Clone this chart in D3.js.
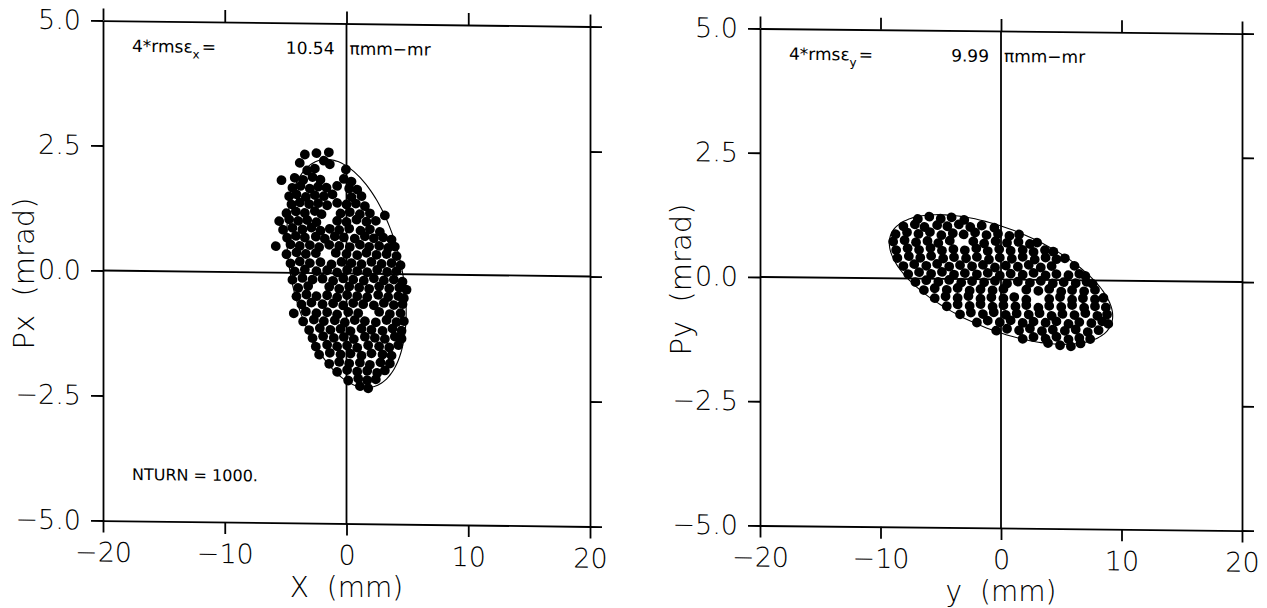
<!DOCTYPE html>
<html><head><meta charset="utf-8">
<script src="https://cdn.jsdelivr.net/npm/d3@7"></script>
<style>
html,body{margin:0;padding:0;background:#fff;}
svg{display:block;}
text{font-family:"DejaVu Sans",sans-serif;fill:#000;}
</style></head><body>
<svg id="chart" width="1267" height="608"></svg>
<script>
// ---------- data ----------
const xTicks = [-20, -10, 0, 10, 20];
const yTicks = [-5, -2.5, 0, 2.5, 5];
const xTickLabels = ["\u221220", "\u221210", "0", "10", "20"];
const yTickLabels = ["\u22125.0", "\u22122.5", "0.0", "2.5", "5.0"];
const planeNames = ["x", "y"];
const xTitles = ["X  (mm)", "y  (mm)"];
const yTitles = ["Px  (mrad)", "Py  (mrad)"];
const emittance = [10.54, 9.99];       // 4*rms emittance, pi mm-mrad
const twissAlpha = [0.35, 0.66];
const twissBeta = [2.28, 8.6];
const nturnLabel = "NTURN = 1000.";

// particles, horizontal phase space (X mm, Px mrad)
const pointsX = [
[-3.42,2.37],[-2.47,2.40],[-1.45,2.42],
[-3.84,2.20],[-1.86,2.25],[-1.37,2.18],
[-3.23,2.05],[-2.60,2.09],[-0.05,2.08],
[-5.34,1.85],[-4.25,1.90],[-3.56,1.86],[-2.79,1.92],[-2.14,1.87],[-0.22,1.89],[0.41,1.84],
[-4.44,1.70],[-3.78,1.74],[-3.01,1.69],[-2.33,1.73],[-1.64,1.71],[-0.77,1.75],[0.22,1.70],[0.88,1.68],
[-4.71,1.53],[-4.11,1.57],[-3.34,1.52],[-2.60,1.56],[-1.86,1.54],[-1.15,1.58],[0.41,1.53],[1.23,1.55],
[-4.52,1.37],[-3.84,1.41],[-3.07,1.38],[-2.33,1.40],[-1.59,1.36],[-0.77,1.41],[0,1.38],[0.77,1.40],[1.51,1.35],
[-4.93,1.19],[-4.16,1.23],[-3.42,1.20],[-2.60,1.24],[-2.05,1.18],[-0.49,1.20],[0.27,1.23],[1.10,1.19],[1.92,1.21],[3.15,1.17],
[-5.53,1.03],[-4.71,1.07],[-3.97,1.04],[-3.23,1.06],[-2.47,1.02],[-0.77,1.05],[0,1.03],[0.82,1.08],[1.64,1.04],[2.41,1.06],
[-5.21,0.86],[-4.44,0.90],[-3.62,0.87],[-2.88,0.91],[-2.14,0.85],[-1.37,0.89],[-0.60,0.87],[0.22,0.90],[1.15,0.86],[1.92,0.89],[2.74,0.84],
[-4.88,0.70],[-4.16,0.74],[-3.42,0.71],[-2.52,0.73],[-1.78,0.69],[-0.96,0.74],[-0.22,0.72],[0.68,0.70],[1.51,0.75],[2.25,0.71],[3.01,0.73],[3.70,0.69],
[-5.81,0.53],[-4.60,0.57],[-3.84,0.54],[-3.01,0.56],[-2.25,0.52],[-1.42,0.57],[-0.60,0.55],[0.27,0.53],[1.10,0.58],[1.86,0.54],[2.68,0.56],[3.42,0.52],[3.97,0.55],
[-4.93,0.37],[-4.11,0.41],[-3.34,0.38],[-2.52,0.40],[-0.88,0.41],[0,0.39],[0.88,0.37],[1.64,0.42],[2.47,0.38],[3.29,0.40],[4.11,0.36],
[-4.60,0.19],[-3.84,0.23],[-3.01,0.20],[-2.14,0.22],[-1.23,0.18],[-0.41,0.23],[0.41,0.21],[1.23,0.19],[2.05,0.24],[2.88,0.20],[3.70,0.22],[4.44,0.18],
[-4.25,0.03],[-3.42,0.07],[-2.47,0.04],[-1.59,0.06],[-0.77,0.02],[0.05,0.07],[0.88,0.05],[1.70,0.03],[2.52,0.08],[3.34,0.04],[4.11,0.06],
[-4.44,-0.14],[-3.62,-0.10],[-2.79,-0.13],[-1.97,-0.11],[-1.10,-0.15],[-0.27,-0.10],[0.55,-0.12],[1.42,-0.14],[2.25,-0.09],[3.07,-0.13],[3.89,-0.11],[4.60,-0.15],
[-3.97,-0.30],[-3.15,-0.26],[-1.42,-0.27],[-0.60,-0.31],[0.22,-0.26],[1.04,-0.28],[1.86,-0.30],[2.68,-0.25],[3.51,-0.29],[4.33,-0.27],[4.93,-0.31],
[-4.11,-0.47],[-3.29,-0.43],[-2.47,-0.46],[-1.59,-0.44],[-0.77,-0.48],[0.05,-0.43],[0.88,-0.45],[1.70,-0.47],[2.60,-0.42],[3.42,-0.46],[4.25,-0.44],[4.71,-0.48],
[-3.70,-0.63],[-2.88,-0.59],[-1.97,-0.62],[-1.10,-0.60],[-0.27,-0.64],[0.55,-0.59],[1.37,-0.61],[2.25,-0.63],[3.07,-0.58],[3.89,-0.62],[4.60,-0.60],
[-4.33,-0.81],[-3.34,-0.77],[-2.47,-0.80],[-1.59,-0.78],[-0.77,-0.82],[0.14,-0.77],[0.96,-0.79],[2.68,-0.76],[3.56,-0.80],[4.44,-0.78],
[-3.56,-0.97],[-2.68,-0.93],[-1.86,-0.96],[-0.96,-0.94],[-0.14,-0.98],[0.68,-0.93],[1.51,-0.95],[2.41,-0.97],[3.29,-0.92],[4.11,-0.96],[4.71,-0.94],
[-3.07,-1.14],[-2.19,-1.10],[-1.32,-1.13],[-0.49,-1.11],[0.33,-1.15],[1.23,-1.10],[2.05,-1.12],[2.96,-1.14],[3.78,-1.09],[4.52,-1.13],
[-2.79,-1.30],[-1.92,-1.26],[-1.04,-1.29],[-0.22,-1.27],[0.60,-1.31],[1.51,-1.26],[2.33,-1.28],[3.15,-1.30],[3.97,-1.25],[4.52,-1.29],
[-2.52,-1.47],[-1.59,-1.43],[-0.77,-1.46],[0.05,-1.44],[0.88,-1.48],[1.78,-1.43],[2.68,-1.45],[3.51,-1.47],[4.25,-1.42],
[-2.25,-1.63],[-1.37,-1.59],[-0.49,-1.62],[0.33,-1.60],[1.23,-1.64],[2.05,-1.59],[2.96,-1.61],[3.70,-1.63],
[-1.42,-1.81],[-0.60,-1.77],[0.22,-1.80],[1.10,-1.78],[1.92,-1.82],[2.79,-1.77],[3.56,-1.79],
[-0.77,-1.97],[0.05,-1.93],[0.88,-1.96],[1.70,-1.94],[2.52,-1.98],[3.15,-1.93],
[0.14,-2.14],[0.96,-2.10],[1.70,-2.13],[2.41,-2.11],
[1.10,-2.25],[1.78,-2.29]
];

// particles, vertical phase space (y mm, Py mrad)
const pointsY = [
[-6.9,1.20],[-5.95,1.25],[-5.0,1.21],[-4.1,1.24],[-3.05,1.19],
[-8.1,1.05],[-7.15,1.09],[-6.35,1.04],[-5.3,1.08],[-4.45,1.06],[-3.5,1.10],[-2.55,1.05],[-1.6,1.08],[-0.55,1.04],
[-8.75,0.89],[-7.8,0.93],[-6.85,0.90],[-5.9,0.94],[-4.95,0.88],[-4.0,0.92],[-3.1,0.90],[-2.15,0.94],[-1.2,0.89],[-0.25,0.92],[0.7,0.88],[1.5,0.91],
[-8.95,0.74],[-8.0,0.77],[-7.05,0.73],[-6.1,0.76],[-5.2,0.72],[-4.25,0.77],[-2.3,0.76],[-1.4,0.72],[-0.45,0.77],[0.5,0.74],[1.45,0.76],[2.4,0.72],[3.0,0.75],
[-8.7,0.57],[-7.75,0.61],[-6.8,0.58],[-5.85,0.62],[-4.9,0.57],[-3.95,0.60],[-3.0,0.58],[-2.05,0.62],[-1.1,0.57],[-0.15,0.61],[0.8,0.58],[1.8,0.60],[2.7,0.56],[3.65,0.60],[4.35,0.57],
[-8.6,0.41],[-7.65,0.45],[-6.7,0.42],[-5.8,0.46],[-4.8,0.41],[-3.9,0.44],[-2.9,0.42],[-2.0,0.45],[-1.0,0.40],[-0.1,0.44],[0.9,0.42],[1.8,0.46],[2.8,0.41],[3.7,0.45],[4.6,0.42],[5.3,0.44],
[-8.1,0.25],[-7.2,0.29],[-6.2,0.26],[-5.3,0.30],[-4.3,0.25],[-3.4,0.28],[-2.4,0.26],[-1.5,0.29],[-0.5,0.24],[0.4,0.28],[1.4,0.26],[2.3,0.30],[3.3,0.25],[4.2,0.28],[6.1,0.29],
[-7.7,0.09],[-6.8,0.13],[-5.8,0.10],[-4.9,0.14],[-3.9,0.09],[-3.0,0.12],[-2.0,0.10],[-1.1,0.13],[-0.1,0.08],[0.8,0.12],[1.8,0.10],[2.7,0.14],[3.7,0.09],[4.6,0.12],[5.6,0.10],[6.5,0.13],[7.0,0.09],
[-7.1,-0.07],[-6.2,-0.03],[-5.2,-0.06],[-4.3,-0.02],[-3.3,-0.07],[-2.4,-0.04],[-1.4,-0.06],[-0.5,-0.03],[0.5,-0.08],[1.4,-0.04],[2.4,-0.06],[3.3,-0.02],[4.3,-0.07],[5.2,-0.04],[6.2,-0.06],[7.1,-0.03],[7.6,-0.07],
[-6.4,-0.23],[-5.5,-0.19],[-4.5,-0.22],[-3.6,-0.18],[-2.6,-0.23],[-1.7,-0.20],[-0.7,-0.22],[0.2,-0.19],[2.1,-0.20],[3.1,-0.22],[4.0,-0.18],[5.0,-0.23],[5.9,-0.20],[6.9,-0.22],[7.8,-0.19],
[-5.5,-0.39],[-4.6,-0.35],[-3.6,-0.38],[-2.7,-0.34],[-1.7,-0.39],[-0.8,-0.36],[0.2,-0.38],[1.1,-0.35],[2.1,-0.40],[4.0,-0.38],[4.9,-0.34],[5.9,-0.39],[6.8,-0.36],[7.8,-0.38],[8.5,-0.35],
[-4.5,-0.55],[-3.6,-0.51],[-2.6,-0.54],[-1.7,-0.50],[-0.7,-0.55],[0.2,-0.52],[1.2,-0.54],[2.1,-0.51],[3.1,-0.56],[4.0,-0.52],[5.0,-0.54],[5.9,-0.50],[6.9,-0.55],[7.8,-0.52],[8.7,-0.54],
[-3.4,-0.71],[-2.5,-0.67],[-1.5,-0.70],[-0.6,-0.66],[0.4,-0.71],[1.3,-0.68],[2.3,-0.70],[3.2,-0.67],[4.2,-0.72],[5.1,-0.68],[6.1,-0.70],[7.0,-0.66],[8.0,-0.71],[8.8,-0.68],
[-2.0,-0.87],[-1.1,-0.83],[-0.1,-0.86],[0.8,-0.82],[1.8,-0.87],[2.7,-0.84],[3.7,-0.86],[4.6,-0.83],[5.6,-0.88],[6.5,-0.84],[7.5,-0.86],[8.4,-0.82],[8.9,-0.87],
[-0.4,-1.03],[0.5,-0.99],[1.5,-1.02],[2.4,-0.98],[3.4,-1.03],[4.3,-1.00],[5.3,-1.02],[6.2,-0.99],[7.2,-1.04],[8.1,-1.00],
[1.8,-1.19],[2.7,-1.15],[3.7,-1.18],[4.6,-1.14],[5.6,-1.19],[6.5,-1.16],[7.4,-1.18],
[3.9,-1.27],[4.9,-1.31],[5.8,-1.33],[6.6,-1.27]
];

// ---------- layout ----------
const panels = [
  {xr: [103, 590], yr: [523.5, 23.5], skew: 0.7, pts: pointsX, nturn: true},
  {xr: [760, 1242], yr: [528, 31], skew: 0.6, pts: pointsY, nturn: false}
];

const svg = d3.select("#chart");
svg.append("rect").attr("width", 1267).attr("height", 608).attr("fill", "#fff");

const LW = 1.8;

panels.forEach((p, i) => {
  const x = d3.scaleLinear().domain([-20, 20]).range(p.xr);
  const y = d3.scaleLinear().domain([-5, 5]).range(p.yr);
  const cx = x(0), cy = y(0);
  const g = svg.append("g")
    .attr("transform", `translate(${cx},${cy}) skewY(${p.skew}) translate(${-cx},${-cy})`);

  const fx = d => xTickLabels[xTicks.indexOf(d)];
  const fy = d => yTickLabels[yTicks.indexOf(d)];

  const styleAxis = sel => {
    sel.attr("font-family", null).attr("font-size", null);
    sel.select(".domain").attr("stroke", "#000").attr("stroke-width", LW);
    sel.selectAll(".tick line").attr("stroke", "#000").attr("stroke-width", LW);
    sel.selectAll(".tick text").attr("font-size", 27).attr("font-weight", 300).attr("fill", "#000");
  };

  g.append("g").attr("transform", `translate(0,${y(-5)})`)
    .call(d3.axisBottom(x).tickValues(xTicks).tickSize(12).tickSizeOuter(0).tickPadding(10).tickFormat(fx))
    .call(styleAxis);
  g.append("g").attr("transform", `translate(0,${y(5)})`)
    .call(d3.axisTop(x).tickValues(xTicks).tickSize(12).tickSizeOuter(0).tickFormat(""))
    .call(styleAxis);
  g.append("g").attr("transform", `translate(${x(-20)},0)`)
    .call(d3.axisLeft(y).tickValues(yTicks).tickSize(12).tickSizeOuter(0).tickPadding(10).tickFormat(fy))
    .call(styleAxis);
  g.append("g").attr("transform", `translate(${x(20)},0)`)
    .call(d3.axisRight(y).tickValues(yTicks).tickSize(12).tickSizeOuter(0).tickFormat(""))
    .call(styleAxis);

  // crosshair
  g.append("line").attr("x1", x(0)).attr("x2", x(0)).attr("y1", y(5)).attr("y2", y(-5))
    .attr("stroke", "#000").attr("stroke-width", LW);
  g.append("line").attr("x1", x(-20)).attr("x2", x(20)).attr("y1", y(0)).attr("y2", y(0))
    .attr("stroke", "#000").attr("stroke-width", LW);

  // emittance ellipse (Twiss parameters)
  const eps = emittance[i], a = twissAlpha[i], b = twissBeta[i];
  const ell = d3.range(0, 360, 3).map(deg => {
    const t = deg * Math.PI / 180;
    return [Math.sqrt(eps * b) * Math.cos(t), -Math.sqrt(eps / b) * (a * Math.cos(t) + Math.sin(t))];
  });
  g.append("path").attr("d", d3.line().x(d => x(d[0])).y(d => y(d[1])).curve(d3.curveCardinalClosed)(ell))
    .attr("fill", "none").attr("stroke", "#000").attr("stroke-width", 1.1);

  // particles
  g.append("g").selectAll("circle").data(p.pts).join("circle")
    .attr("cx", d => x(d[0])).attr("cy", d => y(d[1])).attr("r", 4.9).attr("fill", "#000");

  // annotation
  const ann = g.append("text").attr("x", x(-20) + 29).attr("y", y(5) + 31).attr("font-size", 17);
  ann.append("tspan").text("4*rms\u03B5");
  ann.append("tspan").attr("dy", 6).attr("font-size", 12).text(planeNames[i]);
  ann.append("tspan").attr("dy", -6).attr("dx", 2).text("=");
  g.append("text").attr("x", x(0) - 12).attr("y", y(5) + 31).attr("font-size", 17)
    .attr("text-anchor", "end").text(d3.format(".2f")(eps));
  g.append("text").attr("x", x(0) + 3).attr("y", y(5) + 31).attr("font-size", 17)
    .text("\u03C0mm\u2212mr");

  if (p.nturn) {
    g.append("text").attr("x", x(-20) + 29).attr("y", y(-5) - 41).attr("font-size", 16)
      .text(nturnLabel);
  }

  // axis titles
  svg.append("text").attr("x", x(0)).attr("y", y(-5) + 73).attr("text-anchor", "middle")
    .attr("font-size", 28).attr("font-weight", 300).style("white-space", "pre").text(xTitles[i]);
  svg.append("text").attr("transform", `translate(${x(-20) - 79},${y(0)}) rotate(-90)`)
    .attr("text-anchor", "middle").attr("dominant-baseline", "central")
    .attr("font-size", 29).attr("font-weight", 300).style("white-space", "pre").text(yTitles[i]);
});
</script>
</body></html>
